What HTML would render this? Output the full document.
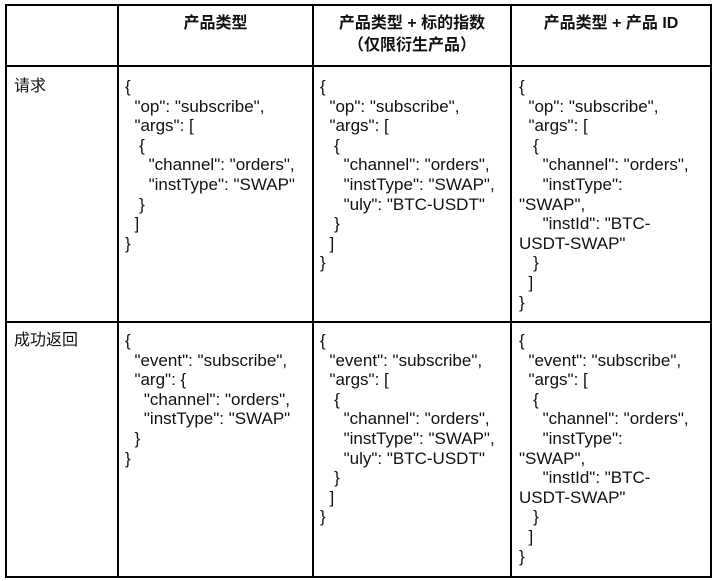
<!DOCTYPE html>
<html><head><meta charset="utf-8"><style>
body{margin:0;width:717px;height:581px;background:#fff;position:relative;font-family:"Liberation Sans","Noto Sans CJK SC",sans-serif;color:#111;overflow:hidden}
.l{position:absolute;background:#000}
pre{position:absolute;margin:0;font-family:"Liberation Sans","Noto Sans CJK SC",sans-serif;font-size:17px;line-height:19.6px;white-space:pre}
.h{position:absolute;font-weight:bold;font-size:16px;line-height:22px;text-align:center}
</style></head><body>
<div class="l" style="left:5px;top:4px;width:707px;height:2px"></div>
<div class="l" style="left:5px;top:65px;width:707px;height:2px"></div>
<div class="l" style="left:5px;top:321px;width:707px;height:2px"></div>
<div class="l" style="left:5px;top:576px;width:707px;height:2px"></div>
<div class="l" style="left:5px;top:4px;width:2px;height:574px"></div>
<div class="l" style="left:117px;top:4px;width:2px;height:574px"></div>
<div class="l" style="left:312px;top:4px;width:2px;height:574px"></div>
<div class="l" style="left:510px;top:4px;width:2px;height:574px"></div>
<div class="l" style="left:710px;top:4px;width:2px;height:574px"></div>

<div class="h" style="left:119px;width:193px;top:13px">产品类型</div>
<div class="h" style="left:314px;width:196px;top:13px">产品类型 + 标的指数<br>（仅限衍生产品）</div>
<div class="h" style="left:512px;width:198px;top:13px">产品类型 + 产品 ID</div>

<pre style="left:14px;top:77px;font-size:16px">请求</pre>
<pre style="left:14px;top:331px;font-size:16px">成功返回</pre>

<pre style="left:125px;top:77px">{
  "op": "subscribe",
  "args": [
   {
     "channel": "orders",
     "instType": "SWAP"
   }
  ]
}</pre>
<pre style="left:320px;top:77px">{
  "op": "subscribe",
  "args": [
   {
     "channel": "orders",
     "instType": "SWAP",
     "uly": "BTC-USDT"
   }
  ]
}</pre>
<pre style="left:519px;top:77px">{
  "op": "subscribe",
  "args": [
   {
     "channel": "orders",
     "instType":
"SWAP",
     "instId": "BTC-
USDT-SWAP"
   }
  ]
}</pre>

<pre style="left:125px;top:331px">{
  "event": "subscribe",
  "arg": {
    "channel": "orders",
    "instType": "SWAP"
  }
}</pre>
<pre style="left:320px;top:331px">{
  "event": "subscribe",
  "args": [
   {
     "channel": "orders",
     "instType": "SWAP",
     "uly": "BTC-USDT"
   }
  ]
}</pre>
<pre style="left:519px;top:331px">{
  "event": "subscribe",
  "args": [
   {
     "channel": "orders",
     "instType":
"SWAP",
     "instId": "BTC-
USDT-SWAP"
   }
  ]
}</pre>
</body></html>
